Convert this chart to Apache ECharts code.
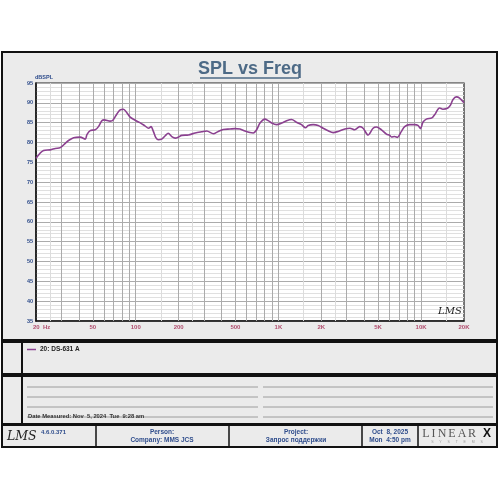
<!DOCTYPE html>
<html><head><meta charset="utf-8">
<script src="https://cdn.jsdelivr.net/npm/echarts@6/dist/echarts.min.js"></script>
<style>html,body{margin:0;padding:0;background:#fff}#c{width:500px;height:500px}</style>
</head><body><div id="c"></div>
<script>
// ---- data ----
const freqHz = [20, 22.6, 25.2, 27.3, 29.6, 32.1, 33.8, 36.7, 40.8, 44.3, 45.5, 48, 52, 54.8, 57.9, 60.1, 66.2, 69.2, 73.8, 77.8, 82, 86.7, 91.4, 99.1, 107, 116, 123, 128, 133, 138, 144, 152, 161, 169, 179, 189, 199, 210, 234, 261, 290, 315, 350, 379, 411, 458, 497, 538, 583, 632, 667, 704, 743, 805, 849, 897, 972, 1054, 1142, 1238, 1340, 1452, 1549, 1618, 1754, 1900, 2060, 2232, 2420, 2623, 2924, 3170, 3430, 3718, 3924, 4253, 4611, 4867, 5276, 5719, 6030, 6197, 6534, 6826, 7281, 7676, 8320, 9020, 9510, 9930, 10300, 10890, 11910, 12450, 13490, 14220, 15420, 16110, 16710, 17660, 18620, 20000];
const splDb = [76.0, 78.0, 78.15, 78.5, 78.7, 79.8, 80.5, 81.2, 81.35, 80.85, 82.0, 83.0, 83.2, 84.0, 85.5, 85.7, 85.4, 85.6, 87.2, 88.25, 88.4, 87.5, 86.4, 85.6, 85.0, 84.2, 83.6, 84.0, 82.8, 81.3, 80.7, 80.85, 81.7, 82.35, 81.5, 81.1, 81.35, 81.8, 81.9, 82.4, 82.7, 82.9, 82.2, 82.8, 83.3, 83.4, 83.5, 83.4, 82.9, 82.5, 82.4, 83.2, 84.9, 85.9, 85.5, 84.9, 84.5, 84.9, 85.5, 85.8, 85.1, 84.5, 83.7, 84.3, 84.5, 84.3, 83.6, 82.95, 82.5, 82.8, 83.4, 83.6, 83.2, 84.0, 83.6, 81.9, 83.6, 83.9, 83.2, 82.1, 81.8, 81.4, 81.5, 81.3, 82.8, 84.0, 84.5, 84.5, 84.3, 83.5, 85.1, 85.9, 86.2, 87.0, 88.7, 88.4, 88.7, 89.5, 90.8, 91.5, 91.2, 90.0];
const seriesName = '20: DS-631 A';
const xGridMain = [30, 40, 50, 60, 70, 80, 90, 100, 200, 300, 400, 500, 600, 700, 800, 900, 1000, 2000, 3000, 4000, 5000, 6000, 7000, 8000, 9000, 10000];
const xGridFaint = [25, 150, 250, 1500, 2500, 15000];
const xTickValues = [20, 50, 100, 200, 500, 1000, 2000, 5000, 10000, 20000];
const xTickLabels = ['20  Hz', '50', '100', '200', '500', '1K', '2K', '5K', '10K', '20K'];
const yMin = 35, yMax = 95, yStep = 5;
const notesDate = 'Date Measured: Nov  5, 2024  Tue  9:28 am';

// ---- chart ----
const FONT = 'Liberation Sans, Arial, sans-serif';
const BLUE = '#2f4d8c';
const chart = echarts.init(document.getElementById('c'), null, {renderer: 'canvas'});

const points = freqHz.map((f, i) => [f, splDb[i]]);

function vLines(vals, color, width) {
  return vals.map(v => ({xAxis: v, lineStyle: {color: color, width: width, type: 'solid'}}));
}

function txt(x, y, text, opt) {
  return Object.assign({type: 'text', x: x, y: y, z: 100, silent: true,
    style: Object.assign({text: text, fontFamily: FONT, fontSize: 6.5, fontWeight: 'bold', fill: BLUE,
      textAlign: 'center', textVerticalAlign: 'middle'}, opt || {})});
}
function line(x1, y1, x2, y2, color, w, z) {
  return {type: 'line', z: z === undefined ? 50 : z, silent: true, shape: {x1: x1, y1: y1, x2: x2, y2: y2},
    style: {stroke: color, lineWidth: w}};
}
function box(x, y, w, h) {
  return {type: 'rect', z: -10, silent: true, shape: {x: x, y: y, width: w, height: h},
    style: {fill: '#ebebeb', stroke: '#111', lineWidth: 2}};
}

const logoFont = {textAlign: 'center', fontFamily: 'Liberation Serif', fontWeight: 'normal', fontSize: 12, fill: '#555'};
const graphics = [
  box(2, 52, 495, 288),
  box(2, 342, 495, 32),
  box(2, 376, 495, 48),
  box(2, 425, 495, 22),
  line(22, 342, 22, 374, '#111', 2),
  line(22, 376, 22, 424, '#111', 2),
  // title underline
  line(200, 78, 299, 78, '#4d6a86', 1.3),
  Object.assign(txt(12, 358, 'Map', {fontSize: 6}), {rotation: Math.PI / 2, originX: 12, originY: 358}),
  Object.assign(txt(12, 400, 'Notes', {fontSize: 6}), {rotation: Math.PI / 2, originX: 12, originY: 400}),
  line(27, 349.5, 36, 349.5, '#8b4190', 1.5),
  txt(40, 349.5, seriesName, {textAlign: 'left', fill: '#222'}),
  txt(28, 416, notesDate, {textAlign: 'left', fill: '#333', fontSize: 5.8}),
  // footer
  line(96, 425, 96, 447, '#111', 1.5),
  line(229, 425, 229, 447, '#111', 1.5),
  line(362, 425, 362, 447, '#111', 1.5),
  line(418, 425, 418, 447, '#111', 1.5),
  txt(7, 436.5, 'LMS', {textAlign: 'left', fontFamily: 'DejaVu Serif', fontStyle: 'italic', fontWeight: 'normal', fontSize: 12.5, fill: '#222'}),
  txt(41, 432, '4.6.0.371', {textAlign: 'left', fontSize: 6}),
  txt(162, 432.5, 'Person:'),
  txt(162, 440.5, 'Company: MMS JCS'),
  txt(296, 432.5, 'Project:'),
  txt(296, 440.5, 'Запрос поддержки'),
  txt(390, 432.5, 'Oct  8, 2025'),
  txt(390, 440.5, 'Mon  4:50 pm'),
  txt(426, 434, 'L', logoFont),
  txt(433.5, 434, 'I', logoFont),
  txt(442, 434, 'N', logoFont),
  txt(452, 434, 'E', logoFont),
  txt(462, 434, 'A', logoFont),
  txt(472, 434, 'R', logoFont),
  txt(487, 434, 'X', {fontFamily: 'Liberation Sans', fontWeight: 'bold', fontSize: 12, fill: '#111'}),
  txt(457, 442.5, 'S      Y      S      T      E      M      S', {fontFamily: 'Liberation Sans', fontWeight: 'normal', fontSize: 3.5, fill: '#999'})
];

// Notes ruled lines
[387, 397, 407, 417].forEach(y => {
  graphics.push(line(27, y, 258, y, '#9c9c9c', 1, 20));
  graphics.push(line(263, y, 493, y, '#9c9c9c', 1, 20));
});

const option = {
  animation: false,
  backgroundColor: '#ffffff',
  title: {
    text: 'SPL vs Freq', left: 'center', top: 60, padding: 0,
    textStyle: {fontFamily: FONT, fontSize: 18, fontWeight: 'bold', color: '#4d6a86'}
  },
  grid: {left: 36, right: 36, top: 83, bottom: 179, show: true, backgroundColor: '#ffffff',
    borderColor: '#222', borderWidth: 1.2},
  xAxis: {
    type: 'log', logBase: 10, min: 20, max: 20000,
    axisLine: {show: true, lineStyle: {color: '#111', width: 1.5}},
    axisTick: {show: false}, axisLabel: {show: false}, splitLine: {show: false}
  },
  yAxis: {
    type: 'value', min: yMin, max: yMax, interval: yStep,
    name: 'dBSPL', nameLocation: 'end', nameGap: 2,
    nameTextStyle: {fontFamily: FONT, fontSize: 5.5, fontWeight: 'bold', color: BLUE, align: 'left', padding: [0, 0, 0, -1]},
    axisLine: {show: true, lineStyle: {color: '#111', width: 1.5}},
    axisTick: {show: false},
    axisLabel: {fontFamily: FONT, fontSize: 5.5, fontWeight: 'bold', color: BLUE, margin: 3},
    splitLine: {show: true, lineStyle: {color: '#ababab', width: 1}},
    minorTick: {show: false, splitNumber: 5},
    minorSplitLine: {show: true, lineStyle: {color: '#e0e0e0', width: 1}}
  },
  graphic: graphics,
  series: [
    {
      type: 'line', name: 'gridFaint', data: [], z: 1, silent: true,
      markLine: {silent: true, symbol: ['none', 'none'], label: {show: false}, animation: false,
        data: vLines(xGridFaint, '#dcdcdc', 1)}
    },
    {
      type: 'line', name: 'gridMain', data: [], z: 2, silent: true,
      markLine: {silent: true, symbol: ['none', 'none'], label: {show: false}, animation: false,
        data: vLines(xGridMain, '#ababab', 1)}
    },
    {
      type: 'scatter', name: 'xLabels', z: 5, silent: true, symbolSize: 1,
      itemStyle: {color: 'rgba(0,0,0,0)'},
      data: xTickValues.map((v, i) => i === 0
        ? {value: [v, yMin], label: {align: 'left', offset: [-3, 0]}}
        : {value: [v, yMin]}),
      label: {show: true, position: 'bottom', distance: 3, fontFamily: FONT, fontSize: 6, fontWeight: 'bold',
        color: '#a3264f', formatter: p => xTickLabels[p.dataIndex]}
    },
    {
      type: 'line', name: seriesName, data: points, z: 10, smooth: 0.3, showSymbol: false, symbol: 'none',
      lineStyle: {color: '#8b4190', width: 1.6}
    }
  ]
};
chart.setOption(option);

// LMS watermark inside plot, positioned via the chart's own scale
const p = chart.convertToPixel({gridIndex: 0}, [20000, 35]);
chart.setOption({graphic: graphics.concat([
  txt(p[0] - 26, p[1] - 10, 'LMS', {textAlign: 'left', fontFamily: 'DejaVu Serif', fontStyle: 'italic', fontWeight: 'normal', fontSize: 10, fill: '#222'})
])});
</script>
</body></html>
